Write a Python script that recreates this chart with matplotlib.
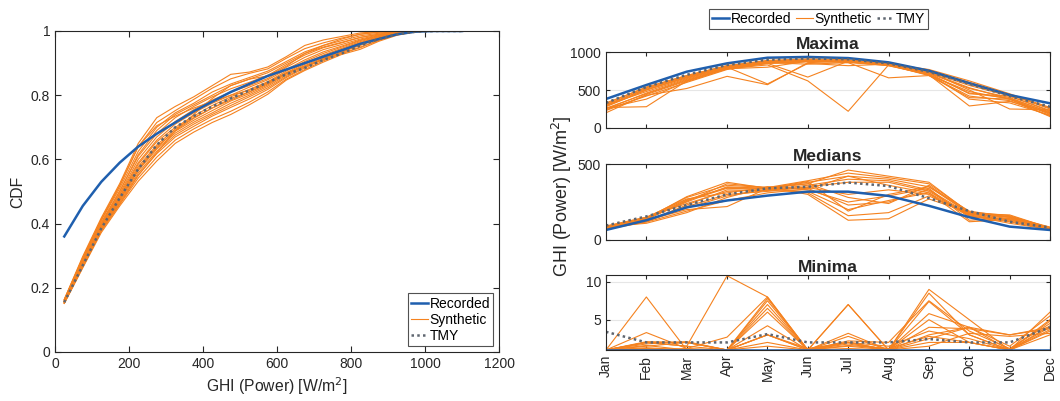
import numpy as np
import matplotlib
matplotlib.use("Agg")
import matplotlib.pyplot as plt
from matplotlib.lines import Line2D

plt.rcParams['font.family'] = ['Liberation Sans', 'DejaVu Sans']

# ---- left panel: CDF of GHI ----
ghi = [25, 75, 125, 175, 225, 275, 325, 375, 425, 475, 525, 575,
       625, 675, 725, 775, 825, 875, 925, 975, 1025, 1100]
cdf_recorded = [0.36, 0.455, 0.53, 0.59, 0.64, 0.68, 0.715, 0.75, 0.78, 0.81, 0.835, 0.86,
                0.88, 0.90, 0.92, 0.94, 0.96, 0.975, 0.99, 0.998, 1.0, 1.0]
cdf_tmy = [0.155, 0.27, 0.385, 0.48, 0.57, 0.645, 0.70, 0.735, 0.765, 0.79, 0.815, 0.84,
           0.865, 0.885, 0.91, 0.93, 0.955, 0.975, 0.99, 0.998, 1.0, 1.0]
cdf_synthetic = [
    [.164, .298, .418, .525, .65, .73, .765, .795, .83, .865, .872, .888, .92, .955, .972, .983, .994, .998, 1, 1, 1, 1],
    [.163, .294, .413, .517, .64, .715, .752, .787, .822, .851, .868, .882, .915, .945, .963, .978, .99, .996, 1, 1, 1, 1],
    [.161, .29, .41, .51, .625, .70, .745, .775, .81, .835, .855, .875, .905, .935, .955, .97, .985, .993, .999, 1, 1, 1],
    [.16, .286, .404, .502, .61, .68, .73, .765, .795, .82, .84, .862, .895, .925, .948, .963, .98, .99, .998, 1, 1, 1],
    [.158, .282, .398, .494, .60, .67, .718, .755, .785, .81, .83, .852, .887, .918, .942, .958, .975, .988, .997, 1, 1, 1],
    [.158, .28, .395, .49, .59, .66, .71, .745, .775, .80, .825, .848, .88, .91, .935, .953, .972, .986, .997, 1, 1, 1],
    [.157, .278, .393, .485, .585, .655, .70, .735, .768, .795, .818, .842, .875, .905, .93, .95, .97, .985, .996, 1, 1, 1],
    [.156, .276, .39, .482, .578, .645, .695, .73, .76, .79, .81, .838, .87, .90, .925, .946, .967, .983, .996, 1, 1, 1],
    [.156, .274, .388, .478, .572, .64, .688, .722, .752, .782, .805, .832, .866, .896, .922, .943, .964, .982, .995, .999, 1, 1],
    [.155, .272, .385, .474, .565, .632, .682, .716, .745, .775, .80, .828, .862, .892, .918, .94, .962, .98, .994, .999, 1, 1],
    [.154, .27, .382, .47, .558, .625, .676, .71, .74, .768, .795, .823, .858, .888, .915, .937, .958, .978, .993, .999, 1, 1],
    [.153, .268, .38, .466, .552, .618, .67, .703, .735, .762, .788, .818, .855, .885, .912, .935, .955, .976, .992, .998, 1, 1],
    [.152, .265, .377, .46, .542, .607, .66, .695, .725, .75, .778, .81, .85, .88, .907, .93, .948, .972, .99, .998, 1, 1],
    [.151, .262, .372, .455, .532, .595, .65, .685, .715, .74, .77, .803, .847, .877, .903, .927, .943, .968, .987, .997, 1, 1],
    [.152, .266, .378, .462, .55, .62, .69, .74, .79, .83, .85, .87, .90, .93, .955, .975, .99, .997, 1, 1, 1, 1],
    [.163, .292, .412, .52, .64, .705, .735, .76, .78, .80, .815, .84, .87, .89, .91, .93, .95, .97, .99, .998, 1, 1],
    [.159, .284, .40, .50, .615, .69, .74, .77, .80, .83, .85, .86, .89, .93, .95, .965, .98, .99, .998, 1, 1, 1],
    [.155, .27, .384, .476, .568, .636, .69, .728, .76, .785, .81, .835, .868, .89, .913, .932, .96, .98, .995, 1, 1, 1],
]

# ---- right panels: monthly statistics ----
months = ['Jan', 'Feb', 'Mar', 'Apr', 'May', 'Jun', 'Jul', 'Aug', 'Sep', 'Oct', 'Nov', 'Dec']
month_idx = list(range(1, 13))

max_recorded = [382, 566, 741, 851, 925, 935, 920, 864, 754, 590, 434, 325]
max_tmy = [330, 540, 700, 830, 900, 915, 905, 850, 740, 580, 420, 280]
max_synthetic = [
    [300, 520, 680, 810, 880, 900, 890, 840, 760, 600, 440, 250],
    [280, 500, 660, 800, 870, 890, 880, 830, 740, 560, 420, 230],
    [250, 460, 640, 790, 860, 880, 870, 830, 720, 520, 400, 200],
    [320, 540, 690, 820, 890, 910, 900, 845, 770, 620, 450, 270],
    [270, 280, 620, 790, 850, 880, 870, 820, 700, 480, 380, 180],
    [230, 430, 520, 680, 570, 860, 880, 830, 690, 420, 360, 160],
    [300, 480, 650, 800, 580, 850, 820, 840, 720, 450, 420, 220],
    [260, 450, 630, 780, 830, 620, 220, 830, 700, 290, 350, 200],
    [290, 500, 670, 810, 850, 670, 880, 830, 740, 500, 250, 240],
    [310, 510, 670, 790, 870, 890, 860, 660, 690, 400, 380, 150],
    [240, 420, 600, 770, 850, 870, 870, 820, 710, 380, 330, 170],
    [200, 440, 620, 780, 800, 880, 880, 840, 730, 530, 380, 190],
    [330, 530, 690, 820, 880, 900, 890, 850, 760, 580, 440, 260],
    [260, 380, 610, 780, 860, 840, 860, 830, 700, 460, 390, 210],
]

med_recorded = [66, 130, 215, 260, 292, 318, 318, 290, 225, 150, 88, 66]
med_tmy = [95, 155, 230, 300, 340, 350, 378, 355, 275, 190, 120, 82]
med_synthetic = [
    [80, 140, 285, 380, 340, 370, 460, 420, 380, 180, 150, 80],
    [85, 145, 280, 360, 345, 390, 440, 410, 370, 185, 160, 78],
    [78, 135, 260, 340, 335, 380, 420, 400, 350, 175, 140, 75],
    [90, 150, 240, 320, 330, 360, 400, 390, 330, 170, 130, 80],
    [75, 120, 220, 300, 320, 350, 380, 380, 320, 165, 125, 72],
    [82, 130, 200, 220, 340, 345, 300, 330, 300, 160, 120, 70],
    [88, 110, 180, 280, 350, 330, 250, 290, 340, 130, 145, 82],
    [72, 125, 230, 330, 325, 320, 200, 260, 310, 120, 135, 77],
    [80, 140, 250, 350, 340, 310, 160, 180, 290, 170, 150, 75],
    [92, 150, 270, 310, 350, 300, 130, 140, 270, 180, 155, 85],
    [76, 128, 210, 290, 330, 340, 230, 250, 330, 150, 140, 74],
    [84, 138, 255, 370, 345, 370, 280, 240, 360, 175, 165, 79],
    [70, 118, 190, 260, 310, 335, 420, 360, 310, 160, 110, 70],
    [86, 142, 265, 345, 340, 385, 190, 300, 350, 190, 150, 80],
]

min_recorded = [1, 1, 1, 1, 1, 1, 1, 1, 1, 1, 1, 1]
min_tmy = [3.4, 2.0, 2.0, 2.0, 3.1, 2.0, 2.0, 2.0, 2.45, 2.0, 2.0, 4.0]
min_synthetic = [
    [1, 8, 1, 1, 3, 1, 2, 1, 2, 2, 1, 4],
    [1, 3.3, 1.2, 2.7, 8, 1, 7, 1, 9, 5, 1, 6],
    [1, 2, 1.5, 10.8, 8, 1, 2, 1, 3, 4, 3, 4],
    [1, 1.5, 2, 1, 7.5, 1, 3.2, 1, 8.5, 3, 1, 5],
    [1, 2, 2, 1, 7, 1, 2.2, 2, 7.5, 3.5, 1.2, 4.5],
    [1, 1.2, 1, 1, 6.5, 1, 1.5, 1, 5.8, 4, 1, 3.5],
    [1, 2, 1.5, 1, 6, 1, 7, 1, 5, 2, 1, 3],
    [1, 1, 1.2, 1, 4.2, 1, 2.8, 1, 4, 3.8, 3, 3.8],
    [1, 1.6, 1, 1, 3, 1.2, 2, 1.5, 3.5, 2.5, 1, 4.2],
    [1, 2.1, 2, 1, 2, 1, 1.8, 1, 2.5, 4, 1.5, 5.5],
    [1, 1.3, 1, 1, 3, 1, 1.2, 1, 1.5, 3.2, 2.8, 3.2],
    [1, 1.8, 2.1, 1, 7.8, 1, 1.6, 1.2, 2.8, 2, 1, 4.8],
    [1, 1.1, 1, 1, 1.5, 1, 2, 1, 7.4, 3, 1, 3.7],
]

BLUE = '#1f5fae'
ORANGE = '#f5821f'
GRAY = '#5f6670'
AXC = '#262626'


def style_axes(ax):
    for s in ax.spines.values():
        s.set_color(AXC)
        s.set_linewidth(0.8)
    ax.tick_params(direction='in', top=True, right=True, colors=AXC,
                   labelcolor=AXC, length=4, width=0.8)


def draw(ax, x, synth, rec, tmy):
    for s in synth:
        ax.plot(x, s, color=ORANGE, lw=0.8)
    ax.plot(x, rec, color=BLUE, lw=1.8)
    ax.plot(x, tmy, color=GRAY, lw=1.8, ls=(0, (1, 1.3)))


fig = plt.figure(figsize=(10.6, 4.01), dpi=100)

# left
ax = fig.add_axes([0.0519, 0.1222, 0.4189, 0.8005])
draw(ax, ghi, cdf_synthetic, cdf_recorded, cdf_tmy)
ax.set_xlim(0, 1200)
ax.set_ylim(0, 1)
ax.set_xticks([0, 200, 400, 600, 800, 1000, 1200])
ax.set_yticks([0, 0.2, 0.4, 0.6, 0.8, 1])
ax.set_yticklabels(['0', '0.2', '0.4', '0.6', '0.8', '1'])
style_axes(ax)
ax.tick_params(labelsize=10)
ax.set_xlabel('GHI (Power) [W/m$^2$]', fontsize=11.3, color=AXC, labelpad=3)
ax.set_ylabel('CDF', fontsize=11.3, color=AXC)
handles = [Line2D([], [], color=BLUE, lw=1.8),
           Line2D([], [], color=ORANGE, lw=0.8),
           Line2D([], [], color=GRAY, lw=1.8, ls=(0, (1, 1.3)))]
labels = ['Recorded', 'Synthetic', 'TMY']
leg = ax.legend(handles, labels, loc='lower right', fontsize=10, frameon=True,
                fancybox=False, edgecolor=AXC, handlelength=1.2, handletextpad=0.1,
                labelspacing=0.15, borderpad=0.25, borderaxespad=0.4)
leg.get_frame().set_linewidth(0.8)

# right panels
rx, rw = 0.5717, 0.4189
specs = [
    ('Maxima', 0.6808, 0.1895, max_synthetic, max_recorded, max_tmy, (0, 1000), [0, 500, 1000]),
    ('Medians', 0.4015, 0.1895, med_synthetic, med_recorded, med_tmy, (0, 500), [0, 500]),
    ('Minima', 0.1272, 0.187, min_synthetic, min_recorded, min_tmy, (1, 10.9), [5, 10]),
]
for title, y0, h, synth, rec, tmy, ylim, yt in specs:
    a = fig.add_axes([rx, y0, rw, h])
    a.yaxis.grid(True, color='#e6e6e6', lw=0.8)
    a.set_axisbelow(True)
    draw(a, month_idx, synth, rec, tmy)
    a.set_xlim(1, 12)
    a.set_ylim(*ylim)
    a.set_yticks(yt)
    style_axes(a)
    a.tick_params(labelsize=10, length=3)
    a.set_title(title, fontsize=12.5, fontweight='bold', color=AXC, pad=2)
    if title == 'Minima':
        a.set_xticks(month_idx)
        a.set_xticklabels(months, rotation=90)
    else:
        a.set_xticks([2, 4, 6, 8, 10, 12])
        a.set_xticklabels([])

fig.text(0.530, 0.511, 'GHI (Power) [W/m$^2$]', rotation=90, ha='center', va='center',
         fontsize=13, color=AXC)
leg2 = fig.legend(handles, labels, loc='upper center', bbox_to_anchor=(0.772, 0.995),
                  ncol=3, fontsize=10, frameon=True, fancybox=False, edgecolor=AXC,
                  handlelength=1.25, handletextpad=0.1, columnspacing=0.35,
                  borderpad=0.2)
leg2.get_frame().set_linewidth(0.8)

fig.savefig('out.png', dpi=100)
